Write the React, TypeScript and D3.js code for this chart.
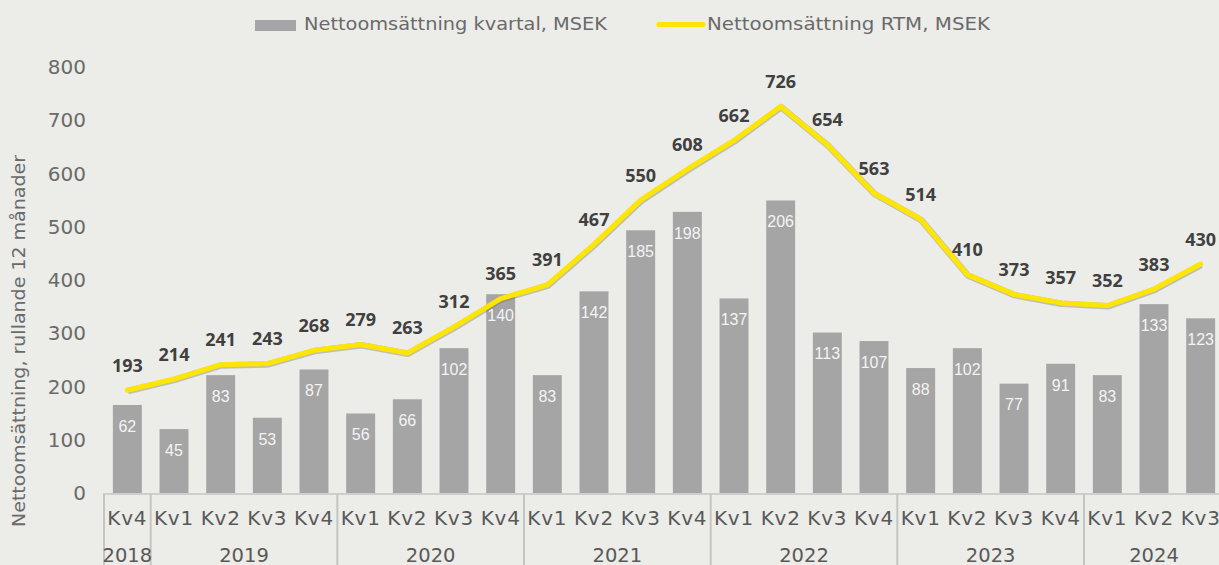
import React from "react";
import * as d3 from "d3";

const quarters = ["Kv4","Kv1","Kv2","Kv3","Kv4","Kv1","Kv2","Kv3","Kv4","Kv1","Kv2","Kv3","Kv4","Kv1","Kv2","Kv3","Kv4","Kv1","Kv2","Kv3","Kv4","Kv1","Kv2","Kv3"];
const years = ["2018","2019","2019","2019","2019","2020","2020","2020","2020","2021","2021","2021","2021","2022","2022","2022","2022","2023","2023","2023","2023","2024","2024","2024"];
const quarterly = [62,45,83,53,87,56,66,102,140,83,142,185,198,137,206,113,107,88,102,77,91,83,133,123];
const rtm = [193,214,241,243,268,279,263,312,365,391,467,550,608,662,726,654,563,514,410,373,357,352,383,430];
const yTicks = [0,100,200,300,400,500,600,700,800];

const W = 1219, H = 565;
const BG = "#ECECE8";
const TXT = "#6A6A6A";

export default function App() {
  const idx = quarters.map((_, i) => i);
  const x = d3.scaleBand<number>().domain(idx).range([104, 1224]).paddingInner(0.38).paddingOuter(0.19);
  const y = d3.scaleLinear().domain([0, 800]).range([493, 67]);
  const y2 = d3.scaleLinear().domain([0, 300]).range([493, 67]);
  const cx = (i: number) => (x(i) as number) + x.bandwidth() / 2;
  const line = d3.line<number>().x((_, i) => cx(i)).y(d => y(d));
  const path = line(rtm) || "";

  const groups: { year: string; start: number; end: number }[] = [];
  years.forEach((yr, i) => {
    const g = groups[groups.length - 1];
    if (g && g.year === yr) g.end = i; else groups.push({ year: yr, start: i, end: i });
  });
  const step = x.step();
  const left = (i: number) => (x(i) as number) - (step - x.bandwidth()) / 2;

  return (
    <svg width={W} height={H} style={{ position: "absolute", left: 0, top: 0, background: BG }}>
      <rect x={0} y={0} width={W} height={H} fill={BG} />
      {/* legend */}
      <rect x={255} y={20} width={41} height={11} fill="#A5A5A5" />
      <text x={304} y={29.5} fontFamily="DejaVu Sans" fontSize={17.5} fill={TXT} textLength={303} lengthAdjust="spacingAndGlyphs">Nettoomsättning kvartal, MSEK</text>
      <line x1={659} x2={703} y1={24.5} y2={24.5} stroke="#FFE600" strokeWidth={5} strokeLinecap="round" />
      <text x={707} y={29.5} fontFamily="DejaVu Sans" fontSize={17.5} fill={TXT} textLength={283} lengthAdjust="spacingAndGlyphs">Nettoomsättning RTM, MSEK</text>

      {/* y axis title */}
      <text transform={`translate(25,341) rotate(-90)`} textAnchor="middle" fontFamily="DejaVu Sans" fontSize={17.5} fill={TXT} textLength={372} lengthAdjust="spacingAndGlyphs">Nettoomsättning, rullande 12 månader</text>

      {/* y ticks */}
      {yTicks.map(t => (
        <text key={t} x={86} y={y(t)} dy="0.36em" textAnchor="end" fontFamily="DejaVu Sans" fontSize={20} fill={TXT}>{t}</text>
      ))}

      {/* bars */}
      {quarterly.map((v, i) => (
        <g key={i}>
          <rect x={x(i)} y={y2(v)} width={x.bandwidth()} height={493 - y2(v)} fill="#A5A5A5" />
          <text x={cx(i)} y={y2(v) + 21} dy="0.36em" textAnchor="middle" fontFamily="Liberation Sans" fontSize={16} fill="#F4F4F4">{v}</text>
        </g>
      ))}

      {/* category axis */}
      <line x1={103} x2={W} y1={494} y2={494} stroke="#C4C4C4" strokeWidth={1.5} />
      <line x1={104} x2={104} y1={494} y2={H} stroke="#C4C4C4" strokeWidth={2} />
      {groups.map((g, k) => {
        const bx = left(g.end) + step;
        const mid = (left(g.start) + bx) / 2;
        return (
          <g key={k}>
            <line x1={bx} x2={bx} y1={494} y2={H} stroke="#C4C4C4" strokeWidth={2} />
            <text x={mid} y={555} dy="0.36em" textAnchor="middle" fontFamily="DejaVu Sans" fontSize={19.5} fill="#595959">{g.year}</text>
          </g>
        );
      })}
      {quarters.map((q, i) => (
        <text key={i} x={cx(i)} y={518} dy="0.36em" textAnchor="middle" fontFamily="DejaVu Sans" fontSize={20} letterSpacing={0.8} fill="#595959">{q}</text>
      ))}

      {/* line */}
      <path d={path} fill="none" stroke="rgba(110,110,90,0.35)" strokeWidth={6.5} strokeLinejoin="round" transform="translate(0.6,0.8)" />
      <path d={path} fill="none" stroke="#FFE600" strokeWidth={5} strokeLinejoin="round" strokeLinecap="round" />
      {rtm.map((v, i) => (
        <text key={i} x={cx(i)} y={y(v) - 25} dy="0.36em" textAnchor="middle" fontFamily="Open Sans" fontWeight={700} fontSize={18} fill="#404040">{v}</text>
      ))}
    </svg>
  );
}
